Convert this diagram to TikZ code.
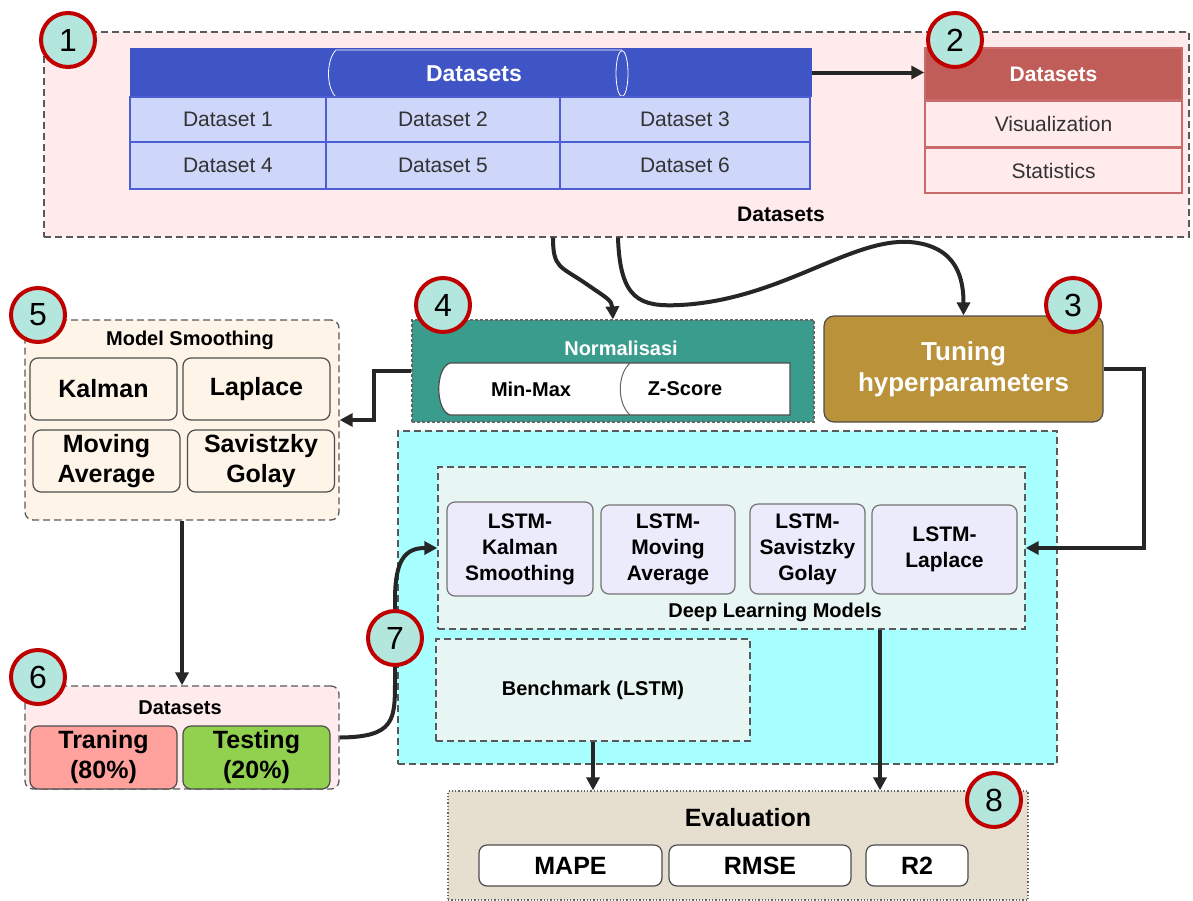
\documentclass[tikz,border=0pt]{standalone}
\usepackage{fontspec}
\setmainfont{Liberation Sans}
\usetikzlibrary{arrows.meta,positioning}
\definecolor{pinkbg}{HTML}{FFEBEB}
\definecolor{dsblue}{HTML}{3F55C5}
\definecolor{dsfill}{HTML}{CED6FA}
\definecolor{dsline}{HTML}{4B5ED3}
\definecolor{redhead}{HTML}{C05D58}
\definecolor{redline}{HTML}{C96B6B}
\definecolor{tealbg}{HTML}{3A9C8C}
\definecolor{tunegold}{HTML}{BA923A}
\definecolor{creambg}{HTML}{FFF4E8}
\definecolor{cyanbg}{HTML}{A8FFFF}
\definecolor{mintbg}{HTML}{E8F6F3}
\definecolor{lstmfill}{HTML}{EBEBFC}
\definecolor{evalbg}{HTML}{E6DFCF}
\definecolor{trainred}{HTML}{FFA29E}
\definecolor{testgreen}{HTML}{92D050}
\definecolor{badgefill}{HTML}{B3E6DD}
\definecolor{badgered}{HTML}{C00000}

\begin{document}
\begin{tikzpicture}[x=1pt,y=-1pt,>={Triangle[length=13pt,width=13pt]},
    every node/.style={inner sep=0pt,align=center},
    grp/.style={draw=black!65,line width=1.3pt,dash pattern=on 7pt off 4pt},
    cell/.style={draw=dsline,fill=dsfill,line width=1.5pt,text=black!80,font=\fontsize{21}{24}\selectfont},
    redcell/.style={draw=redline,fill=pinkbg,line width=1.5pt,text=black!80,font=\fontsize{21}{24}\selectfont,minimum width=257pt,minimum height=45pt},
    method/.style={draw=black!70,rounded corners=8pt,line width=1.2pt,font=\fontsize{25}{30}\selectfont\bfseries,minimum width=147pt,minimum height=62pt},
    lstm/.style={draw=black!55,fill=lstmfill,rounded corners=8pt,line width=1.2pt,font=\fontsize{21}{26}\selectfont\bfseries},
    metric/.style={draw=black!70,fill=white,rounded corners=8pt,line width=1.2pt,font=\fontsize{25}{30}\selectfont\bfseries,minimum height=41pt},
    lbl/.style={font=\fontsize{20}{24}\selectfont\bfseries},
    flow/.style={->,line width=4pt,draw=black!85},
    badge/.style={circle,draw=badgered,fill=badgefill,line width=4pt,minimum size=54pt,font=\fontsize{32}{32}\selectfont}]
  \useasboundingbox (0,0) rectangle (1193,900);

  % datasets block
  \node[grp,fill=pinkbg,minimum width=1145pt,minimum height=205pt] (dsall) at (616.5,134.5) {};
  \node[lbl,font=\fontsize{21}{24}\selectfont\bfseries] (dsalllbl) at (781,214) {Datasets};
  \node[fill=dsblue,minimum width=682pt,minimum height=49pt] (dshead) at (471,72.5) {};
  \draw[white,line width=0.8pt] (622,50) -- (336,50) .. controls (326,60) and (326,88) .. (336,97);
  \draw[white,line width=0.8pt] (622,73.5) ellipse (6pt and 23pt);
  \node[text=white,font=\fontsize{23}{24}\selectfont\bfseries] (dstitle) at (474,74) {Datasets};
  \foreach \cx/\w/\a/\b in {228/196/1/4,443/234/2/5,685/250/3/6}{
    \node[cell,minimum width=\w*1pt,minimum height=45pt] (ds\a) at (\cx,119.5) {Dataset \a};
    \node[cell,minimum width=\w*1pt,minimum height=47pt] (ds\b) at (\cx,165.5) {Dataset \b};}

  \node[fill=redhead,draw=redline,line width=1.5pt,minimum width=257pt,minimum height=52pt,
    text=white,font=\fontsize{21}{24}\selectfont\bfseries] (vhead) at (1053.5,74) {Datasets};
  \node[redcell,below=0pt of vhead] (vis) {Visualization};
  \node[redcell,below=0pt of vis] (stat) {Statistics};
  \draw[flow] (dshead.east) -- (dshead.east -| vhead.west);

  % normalisasi and tuning
  \node[fill=tealbg,draw=black!60,densely dashed,line width=1.2pt,minimum width=402pt,minimum height=102pt] (norm) at (613,371) {};
  \node[lbl,text=white] (normlbl) at (621,348) {Normalisasi};
  \draw[draw=black!70,fill=white,line width=1.2pt] (450,363) -- (790,363) -- (790,415) -- (450,415)
    .. controls (435,410) and (435,368) .. cycle;
  \draw[black!60,line width=1pt] (630,363) .. controls (617,375) and (617,403) .. (630,415);
  \node[lbl] (minmax) at (531,389) {Min-Max};
  \node[lbl] (zscore) at (685,389) {Z-Score};

  \node[draw=black!70,fill=tunegold,rounded corners=10pt,line width=1.2pt,minimum width=279pt,minimum height=106pt,
    text=white,font=\fontsize{26}{31}\selectfont\bfseries] (tune) at (963.5,369) {Tuning\\hyperparameters};

  % smoothing
  \node[grp,fill=creambg,rounded corners=8pt,minimum width=314pt,minimum height=200pt] (smooth) at (182,420) {};
  \node[lbl] (smoothlbl) at (190,340) {Model Smoothing};
  \node[method,fill=creambg] (kal) at (103.5,389) {Kalman};
  \node[method,fill=creambg] (lap) at (256.5,389) {Laplace};
  \node[method,fill=creambg] (mav) at (106.5,461) {Moving\\Average};
  \node[method,fill=creambg] (sav) at (261,461) {Savistzky\\Golay};

  % split
  \node[grp,fill=pinkbg,rounded corners=8pt,minimum width=314pt,minimum height=103pt] (split) at (182,737.5) {};
  \node[lbl] (splitlbl) at (180,708) {Datasets};
  \node[method,fill=trainred,minimum height=63pt] (train) at (103.5,757.5) {Traning\\(80\%)};
  \node[method,fill=testgreen,minimum height=63pt] (test) at (256.5,757.5) {Testing\\(20\%)};

  % models
  \node[grp,fill=cyanbg,minimum width=659pt,minimum height=333pt] (zone) at (727.5,597.5) {};
  \node[grp,fill=mintbg,minimum width=587pt,minimum height=162pt] (dl) at (731.5,548) {};
  \node[lbl] (dllbl) at (775,612) {Deep Learning Models};
  \node[lstm,minimum width=146pt,minimum height=94pt] (lk) at (520,549) {LSTM-\\Kalman\\Smoothing};
  \node[lstm,minimum width=134pt,minimum height=89pt] (lm) at (668,549.5) {LSTM-\\Moving\\Average};
  \node[lstm,minimum width=115pt,minimum height=90pt] (ls) at (807.5,549) {LSTM-\\Savistzky\\Golay};
  \node[lstm,minimum width=145pt,minimum height=89pt] (ll) at (944.5,549.5) {LSTM-\\Laplace};
  \node[grp,fill=mintbg,minimum width=314pt,minimum height=102pt,font=\fontsize{20}{24}\selectfont\bfseries] (bench) at (593,690) {Benchmark (LSTM)};

  % evaluation
  \node[draw=black!60,dotted,line width=1.3pt,fill=evalbg,minimum width=580pt,minimum height=109pt] (eval) at (738,845.5) {};
  \node[font=\fontsize{25}{30}\selectfont\bfseries] (evallbl) at (748,818) {Evaluation};
  \node[metric,minimum width=183pt] (mape) at (570.5,865.5) {MAPE};
  \node[metric,minimum width=182pt] (rmse) at (760,865.5) {RMSE};
  \node[metric,minimum width=102pt] (rtwo) at (917,865.5) {R2};

  % connectors
  \draw[flow] ([xshift=-63.5pt]dsall.south) .. controls (553,268) and (560,266) .. (585,283)
    .. controls (605,297) and (612,300) .. (norm.north);
  \draw[flow] ([xshift=1.5pt]dsall.south) .. controls (620,300) and (640,307) .. (680,305)
    .. controls (780,300) and (850,238) .. (910,242) .. controls (958,246) and (963.5,280) .. (tune.north);
  \draw[flow] (norm.west) -- ++(-37,0) |- (smooth.east);
  \draw[flow] (smooth.south) -- (split.north);
  \draw[flow] (split.east) .. controls (395,737) and (395,720) .. (395,680) -- (395,600)
    .. controls (395,560) and (405,548) .. (dl.west);
  \draw[flow] (tune.east) -- ++(40,0) |- (dl.east);
  \draw[flow] (bench.south) -- (bench.south |- eval.north);
  \draw[flow] ([xshift=148.5pt]dl.south) -- ([xshift=148.5pt]dl.south |- eval.north);

  \foreach \n/\x/\y in {1/68/40,2/955/40,3/1073/305,4/443/305,5/38/315,6/38/677,7/395/638,8/994/800}
    \node[badge] (badge\n) at (\x,\y) {\n};
\end{tikzpicture}
\end{document}
